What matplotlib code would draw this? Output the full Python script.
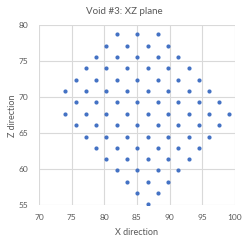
import matplotlib
matplotlib.use("Agg")
import matplotlib.pyplot as plt

plt.rcParams['font.family'] = ['Lato', 'DejaVu Sans']

# lattice points read row by row (z value, x values in that row)
z_rows = [55.19, 56.71, 58.24, 59.86, 61.44, 63.01, 64.54, 66.11,
          67.69, 69.31, 70.88, 72.41, 74.03, 75.60, 77.18, 78.75]
x_rows = [
    [86.63],
    [85.0, 88.16],
    [83.42, 86.63, 89.75],
    [81.89, 85.0, 88.16, 91.33],
    [80.31, 83.42, 86.63, 89.75, 92.91],
    [78.72, 81.89, 85.0, 88.16, 91.33, 94.49],
    [77.19, 80.31, 83.42, 86.63, 89.75, 92.91, 96.07],
    [75.61, 78.72, 81.89, 85.0, 88.16, 91.33, 94.49, 97.6],
    [74.03, 77.19, 80.31, 83.42, 86.63, 89.75, 92.91, 96.07, 99.13],
    [75.61, 78.72, 81.89, 85.0, 88.16, 91.33, 94.49, 97.6],
    [74.03, 77.19, 80.31, 83.42, 86.63, 89.75, 92.91, 96.07],
    [75.61, 78.72, 81.89, 85.0, 88.16, 91.33, 94.49],
    [77.19, 80.31, 83.42, 86.63, 89.75, 92.91],
    [78.72, 81.89, 85.0, 88.16, 91.33],
    [80.31, 83.42, 86.63, 89.75],
    [81.89, 85.0, 88.16],
]

xs = [x for z, row in zip(z_rows, x_rows) for x in row]
zs = [z for z, row in zip(z_rows, x_rows) for x in row]

fig = plt.figure(figsize=(2.49, 2.44), dpi=100)
ax = fig.add_axes([0.1566, 0.1586, 0.7872, 0.7377])

ax.scatter(xs, zs, s=9, color='#4472C4', linewidths=0, zorder=3)

ax.set_xlim(70, 100)
ax.set_ylim(55, 80)
ax.set_xticks(range(70, 101, 5))
ax.set_yticks(range(55, 81, 5))
ax.grid(True, color='#d9d9d9', linewidth=0.8)
ax.set_axisbelow(True)
for s in ax.spines.values():
    s.set_visible(False)
ax.tick_params(length=0, labelsize=6, labelcolor='#595959')
ax.tick_params(axis='x', pad=6)
ax.tick_params(axis='y', pad=7.5)

# title is centred on the whole figure, as in the spreadsheet chart
fig.text(0.5, 1 - 12 / 244, 'Void #3: XZ plane', fontsize=7, color='#595959',
         ha='center', va='center')
ax.set_xlabel('X direction', fontsize=6.5, color='#595959', labelpad=5)
ax.set_ylabel('Z direction', fontsize=6.5, color='#595959')
ax.yaxis.set_label_coords(-0.112, 0.5)

fig.savefig('out.png', dpi=100)
